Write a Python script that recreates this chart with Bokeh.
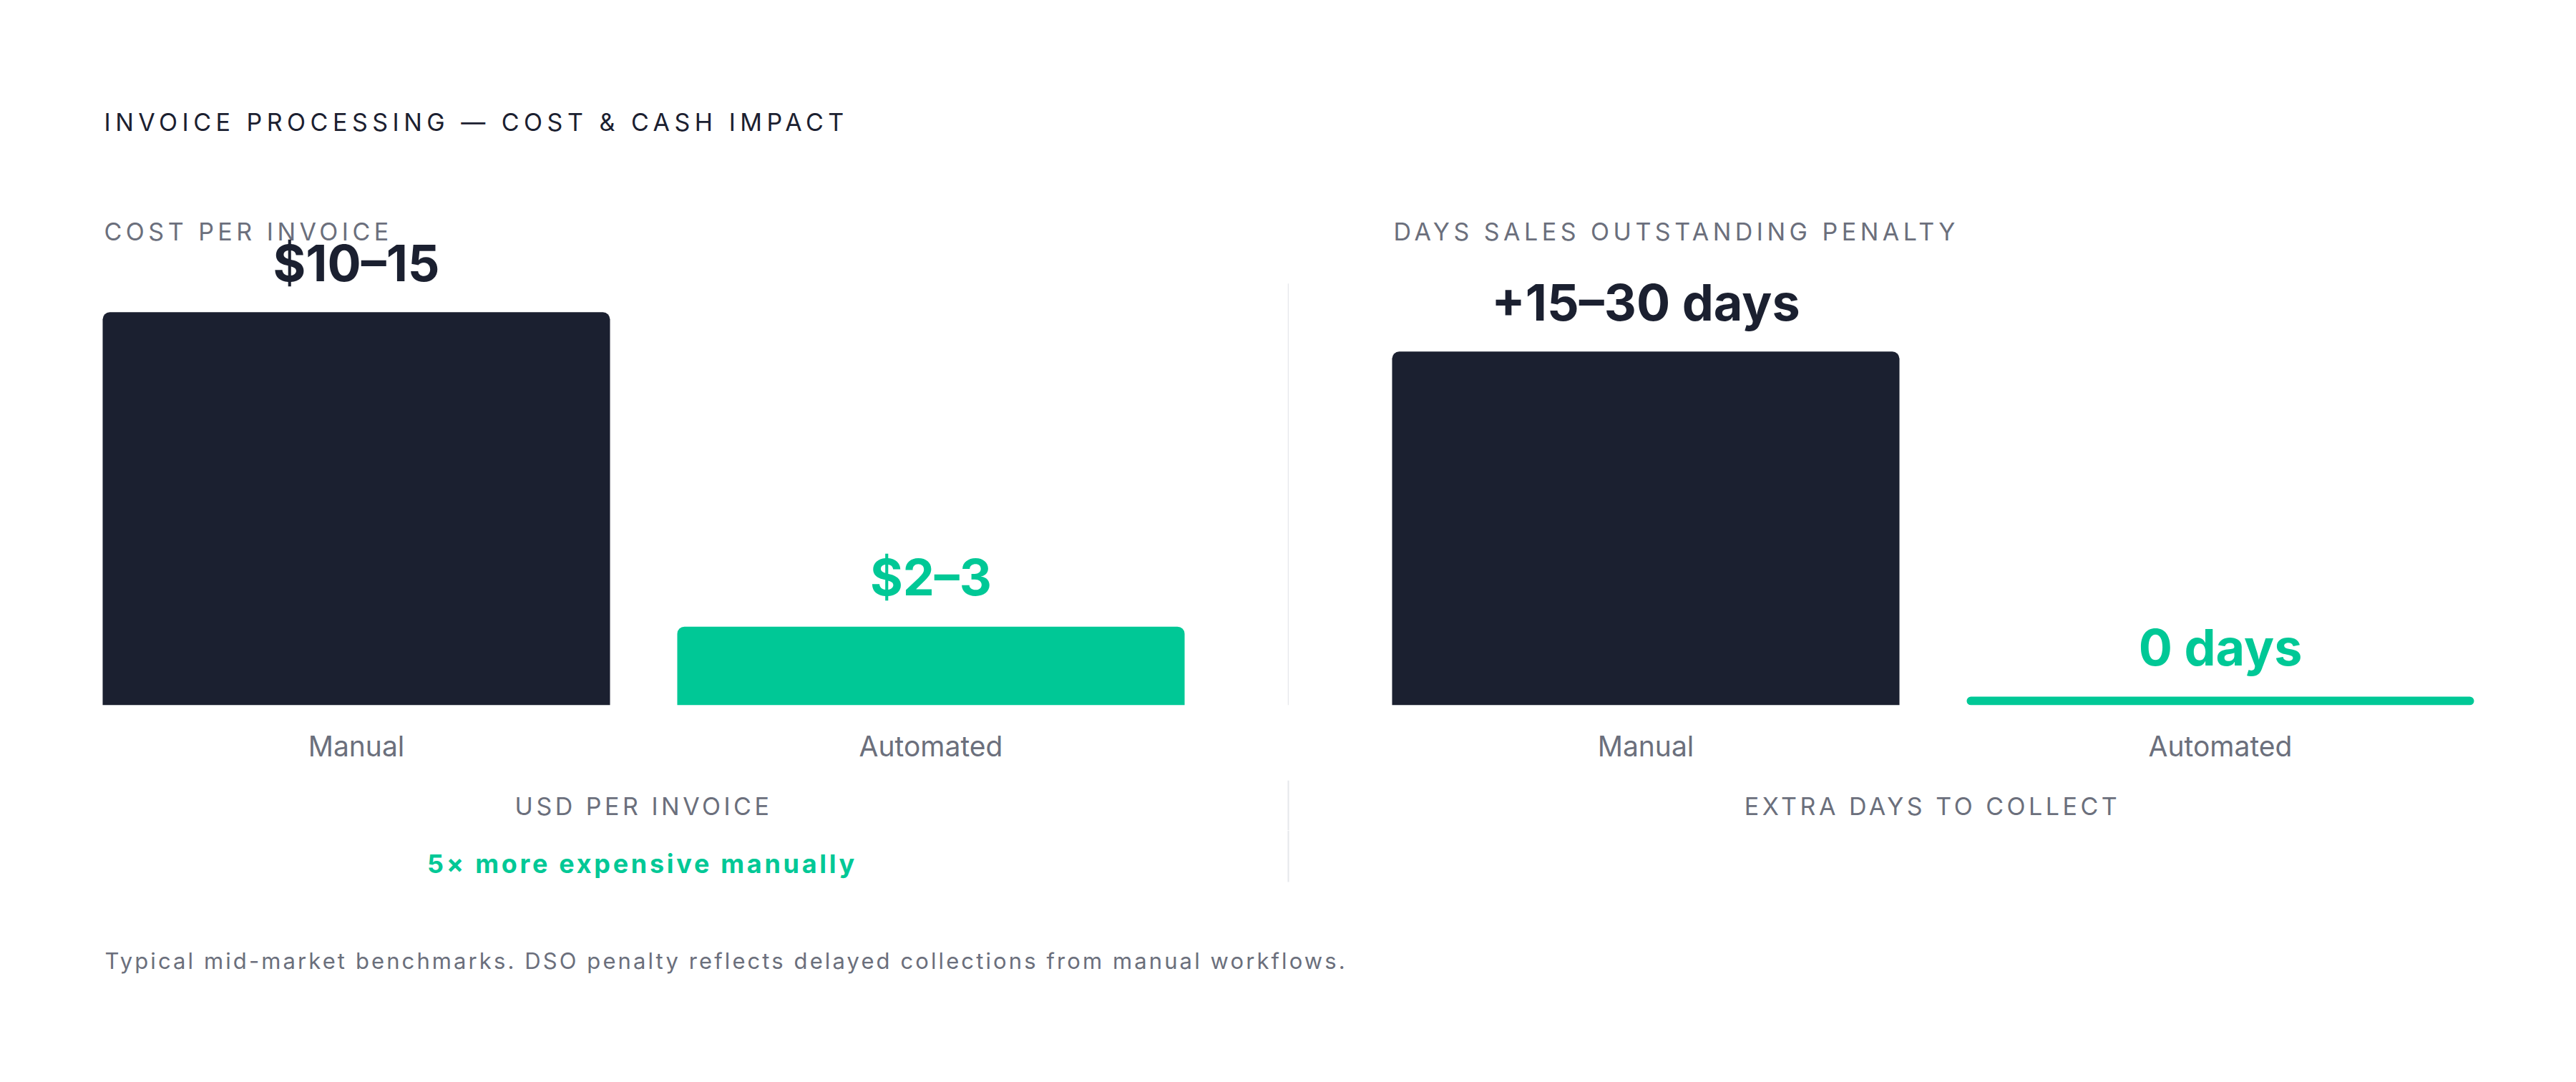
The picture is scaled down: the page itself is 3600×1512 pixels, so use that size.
from bokeh.plotting import figure
from bokeh.models import ColumnDataSource, Range1d, FactorRange
from bokeh.layouts import column, row
from bokeh.embed import file_html
from bokeh.resources import INLINE
from bokeh.core.properties import value

# ---------------- data ----------------
categories = ["Manual", "Automated"]
cost_low = [10, 2]
cost_high = [15, 3]
cost_labels = ["$10–15", "$2–3"]
dso_low = [15, 0]
dso_high = [30, 0]
dso_labels = ["+15–30 days", "0 days"]

title_text = "INVOICE PROCESSING — COST & CASH IMPACT"
left_title = "COST PER INVOICE"
right_title = "DAYS SALES OUTSTANDING PENALTY"
left_axis_title = "USD PER INVOICE"
right_axis_title = "EXTRA DAYS TO COLLECT"
callout = "5× more expensive manually"
footnote = "Typical mid-market benchmarks. DSO penalty reflects delayed collections from manual workflows."

# ---------------- style / layout ----------------
FONT = value("Inter")
DARK = "#1b2030"
GREEN = "#00c896"
GREY = "#6b6f7c"
RULE = "#e5e7eb"
bar_colors = [DARK, GREEN]

W = 3600
DIV_X0, DIV_X1 = 1799, 1801
SUB_TOP, SUB_BOTTOM = 250, 350
PANEL_TOP, PANEL_BOTTOM, BASELINE = 326, 1090, 985
RULE_TOP, RULE_BOTTOM = 407, 1232
MIN_BAR_PX = 12
LABEL_GAP = 45
BASE_SHIFT = 0.34  # em, alphabetic-baseline correction


def band(y0, y1, spacing=0, extra_styles=None):
    p = figure(width=W, height=y1 - y0, x_range=Range1d(0, W), y_range=Range1d(y1, y0),
               output_backend="svg", toolbar_location=None, min_border=0,
               x_axis_type=None, y_axis_type=None, outline_line_color=None,
               background_fill_color=None, border_fill_color=None)
    styles = {"letter-spacing": f"{spacing}px"}
    if extra_styles:
        styles.update(extra_styles)
    p.styles = styles
    return p, spacing


def add_text(b, x, y, txt, size, color, align="left", weight="normal"):
    p, sp = b
    if align == "center":
        x = x - len(txt) * sp / 2
    p.text(x=[x], y=[y - BASE_SHIFT * size], text=[txt], text_font=FONT,
           text_font_size=f"{size}px", text_color=color, text_align=align,
           text_baseline="alphabetic", text_font_style=weight)


def add_rule(p, y0, y1):
    p.segment(x0=[1800], y0=[y0], x1=[1800], y1=[y1], line_color=RULE, line_width=2)


def panel(low, high, labels, x0, x1, frame_x0, frame_x1):
    mids = [(a + b) / 2 for a, b in zip(low, high)]
    y_end = max(high)
    ppu = (BASELINE - PANEL_TOP) / y_end
    p = figure(width=x1 - x0, height=PANEL_BOTTOM - PANEL_TOP,
               x_range=FactorRange(*categories), y_range=Range1d(0, y_end),
               output_backend="svg", toolbar_location=None, y_axis_type=None,
               min_border_top=0, min_border_bottom=PANEL_BOTTOM - BASELINE,
               min_border_left=frame_x0 - x0, min_border_right=x1 - frame_x1,
               outline_line_color=None, background_fill_color=None,
               border_fill_color=None)
    p.xgrid.visible = False
    ax = p.xaxis[0]
    ax.axis_line_color = None
    ax.major_tick_line_color = None
    ax.minor_tick_line_color = None
    ax.major_label_text_font = "Inter"
    ax.major_label_text_font_size = "39px"
    ax.major_label_text_color = GREY
    ax.major_label_standoff = 27
    for i, cat in enumerate(categories):
        top = max(mids[i], MIN_BAR_PX / ppu)
        src = ColumnDataSource(dict(x=[cat], top=[top], label=[labels[i]]))
        radius = (10, 10, 0, 0) if mids[i] * ppu >= MIN_BAR_PX else 6
        p.vbar(x="x", top="top", bottom=0, width=0.883, source=src,
               fill_color=bar_colors[i], line_color=None, border_radius=radius)
        p.text(x="x", y="top", text="label", source=src,
               y_offset=-(LABEL_GAP + BASE_SHIFT * 70),
               text_font=FONT, text_font_size="70px", text_font_style="bold",
               text_color=bar_colors[i], text_align="center",
               text_baseline="alphabetic")
    return p


# header bands
head = band(0, SUB_TOP, 6.5)
add_text(head, 145, 182, title_text, 34, DARK)

sub = band(SUB_TOP, SUB_BOTTOM, 5.5, {"margin-bottom": f"{PANEL_TOP - SUB_BOTTOM}px"})
add_text(sub, 145, 335, left_title, 34, GREY)
add_text(sub, 1947, 335, right_title, 34, GREY)

# panels
left = panel(cost_low, cost_high, cost_labels, 0, DIV_X0, 96, 1702)
right = panel(dso_low, dso_high, dso_labels, DIV_X1, W, 1898, 3504)
div = figure(width=DIV_X1 - DIV_X0, height=PANEL_BOTTOM - PANEL_TOP,
             x_range=Range1d(DIV_X0, DIV_X1), y_range=Range1d(PANEL_BOTTOM, PANEL_TOP),
             output_backend="svg", toolbar_location=None, min_border=0,
             x_axis_type=None, y_axis_type=None, outline_line_color=None,
             background_fill_color=None, border_fill_color=None)
add_rule(div, RULE_TOP, PANEL_BOTTOM)

# axis-title band
axb = band(PANEL_BOTTOM, 1160, 4.5)
add_text(axb, 899, 1138, left_axis_title, 34, GREY, "center")
add_text(axb, 2700, 1138, right_axis_title, 34, GREY, "center")
add_rule(axb[0], PANEL_BOTTOM, 1160)

# callout band
cal = band(1160, 1270, 3.7)
add_text(cal, 897, 1219, callout, 36, GREEN, "center", "bold")
add_rule(cal[0], 1160, RULE_BOTTOM)

# footnote band
foot = band(1270, 1512, 3.1)
add_text(foot, 146, 1353, footnote, 31, GREY)

layout = column(head[0], sub[0], row(left, div, right, spacing=0), axb[0], cal[0], foot[0],
                spacing=0)

open("out.html", "w").write(file_html(layout, INLINE))
